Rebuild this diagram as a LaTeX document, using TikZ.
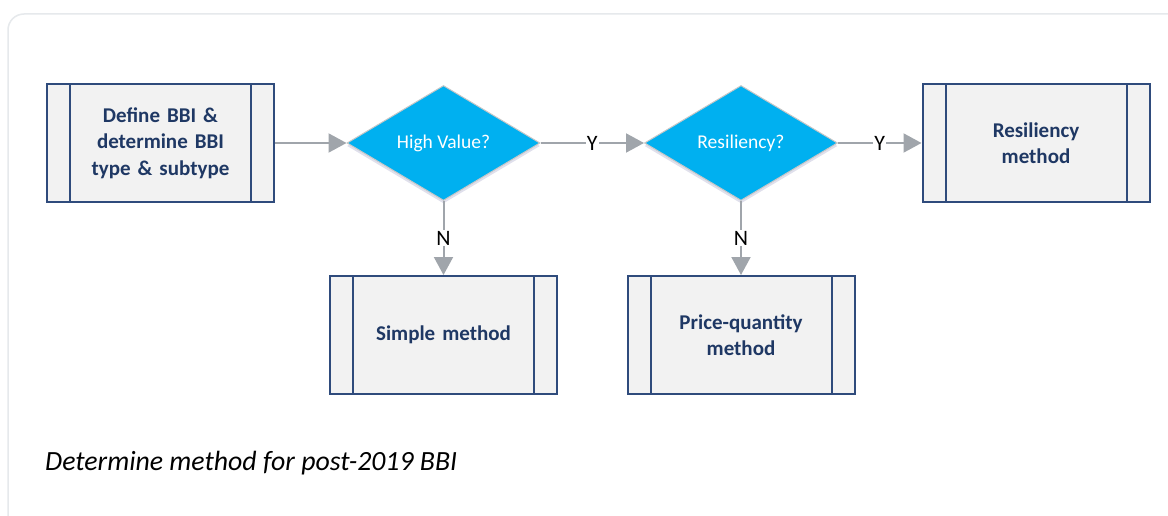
\documentclass[tikz,border=0pt]{standalone}
\usepackage{fontspec}
\setmainfont{Carlito}
\usetikzlibrary{shapes.geometric,arrows.meta,calc,shadows}
\definecolor{navy}{HTML}{1F3864}
\definecolor{boxline}{HTML}{2F4B7C}
\definecolor{boxfill}{HTML}{F2F2F2}
\definecolor{decfill}{HTML}{00B0F0}
\definecolor{arrowgray}{HTML}{A0A5AB}
\definecolor{cardline}{HTML}{E6E9EC}
\tikzset{
 procbox/.style={draw=boxline, line width=2pt, fill=boxfill, minimum width=227pt, minimum height=118pt,
   inner sep=0pt, align=center, text=navy, text width=175pt,
   font=\fontsize{21}{26.5}\selectfont\bfseries,
   path picture={\draw[boxline,line width=2pt]
     ($(path picture bounding box.north west)+(23,0)$) -- ($(path picture bounding box.south west)+(23,0)$)
     ($(path picture bounding box.north east)+(-23,0)$) -- ($(path picture bounding box.south east)+(-23,0)$);}},
 decision/.style={diamond, aspect=1.68, fill=decfill, draw=black!22, line width=1pt,
   minimum width=193pt, minimum height=115pt, inner sep=0pt, text=white,
   font=\fontsize{19.5}{23}\selectfont,
   drop shadow={opacity=0.12, shadow xshift=0pt, shadow yshift=-3pt, fill=black!60!blue}},
 flow/.style={draw=arrowgray, line width=2pt, -{Triangle[length=18pt,width=19pt]}},
 lab/.style={fill=white, inner sep=1pt, text=black, font=\fontsize{22}{24}\selectfont},
 caption/.style={anchor=west, inner sep=0pt, font=\fontsize{27.8}{32}\selectfont\itshape, text=black}
}
\begin{document}
\begin{tikzpicture}[x=1pt,y=-1pt]
\clip (0,0) rectangle (1168,516);
\fill[white] (0,0) rectangle (1168,516);
\draw[cardline, line width=1.5pt, rounded corners=16pt, fill=white] (8,14) rectangle (1200,560);

\node[procbox] (b1) at (160.5,143) {Define BBI \&\\determine BBI\\type \& subtype};
\node[decision] (d1) at (443.5,143) {High Value?};
\node[decision] (d2) at (741,143) {Resiliency?};
\node[procbox] (b4) at (1036,143) {Resiliency\\method};
\node[procbox] (b2) at (443.5,335) {Simple method};
\node[procbox] (b3) at (741,335) {Price-quantity\\method};

\draw[flow] (b1.east) -- (d1.west);
\draw[flow] (d1.east) -- node[lab] {Y} (d2.west);
\draw[flow] (d2.east) -- node[lab] {Y} (b4.west);
\draw[flow] (d1.south) -- node[lab] {N} (b2.north);
\draw[flow] (d2.south) -- node[lab] {N} (b3.north);

\node[caption] (cap) at (45,463) {Determine method for post-2019 BBI};
\end{tikzpicture}
\end{document}
